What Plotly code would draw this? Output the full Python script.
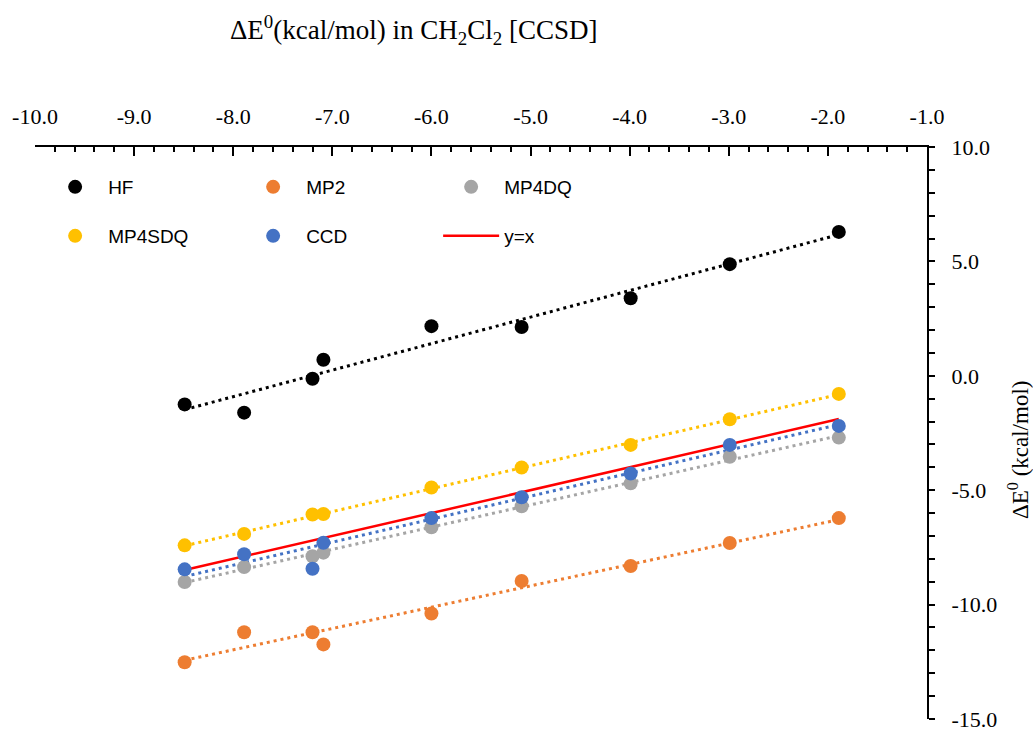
import numpy as np
import plotly.graph_objects as go

# x: ΔE0 in CH2Cl2 at CCSD level
ccsd = [-8.49, -7.89, -7.20, -7.09, -6.00, -5.09, -3.99, -2.99, -1.89]
hf = [-1.25, -1.61, -0.13, 0.70, 2.17, 2.13, 3.39, 4.88, 6.29]
mp2 = [-12.52, -11.21, -11.21, -11.74, -10.39, -8.97, -8.31, -7.31, -6.22]
mp4dq = [-9.01, -8.36, -7.89, -7.73, -6.62, -5.70, -4.70, -3.54, -2.70]
mp4sdq = [-7.41, -6.91, -6.06, -6.04, -4.88, -4.01, -3.02, -1.90, -0.79]
ccd = [-8.46, -7.80, -8.43, -7.30, -6.22, -5.31, -4.27, -3.02, -2.19]

series_names = ["HF", "MP2", "MP4DQ", "MP4SDQ", "CCD"]
series_vals = [hf, mp2, mp4dq, mp4sdq, ccd]
series_colors = ["#000000", "#ED7D31", "#A5A5A5", "#FFC000", "#4472C4"]

x_ticks = [-10.0, -9.0, -8.0, -7.0, -6.0, -5.0, -4.0, -3.0, -2.0, -1.0]
y_ticks = [10.0, 5.0, 0.0, -5.0, -10.0, -15.0]
x_ticktext = [f"{v:.1f}" for v in x_ticks]
y_ticktext = [f"{v:.1f}" for v in y_ticks]

serif = "Liberation Serif, Times New Roman, serif"
sans = "Liberation Sans, Arial, sans-serif"

fig = go.Figure()

xs = np.array(ccsd)
xline = np.array([xs.min(), xs.max()])

# trendlines (linear fits)
for name, vals, col in zip(series_names, series_vals, series_colors):
    a, b = np.polyfit(xs, np.array(vals), 1)
    fig.add_trace(go.Scatter(
        x=xline, y=a * xline + b, mode="lines",
        line=dict(color=col, width=3, dash="3px,4px"),
        showlegend=False, hoverinfo="skip"))

# y = x reference line
fig.add_trace(go.Scatter(
    x=xline, y=xline, mode="lines", name="y=x",
    line=dict(color="#FF0000", width=2.5),
    legend="legend2", legendrank=6))

for i, (name, vals, col) in enumerate(zip(series_names, series_vals, series_colors)):
    fig.add_trace(go.Scatter(
        x=ccsd, y=vals, mode="markers", name=name,
        marker=dict(color=col, size=14),
        legend="legend" if i < 3 else "legend2", legendrank=i + 1))

leg_common = dict(orientation="h", xanchor="left", yanchor="middle",
                  entrywidth=127, entrywidthmode="pixels", traceorder="normal",
                  itemwidth=56,
                  font=dict(family=sans, size=19, color="#000000"),
                  bgcolor="rgba(0,0,0,0)")

T, B = 147, 14
H = 733 - T - B
bottom_px = 733 - B

fig.update_layout(
    width=1033, height=733,
    margin=dict(l=35, r=106, t=T, b=B, autoexpand=False),
    paper_bgcolor="white", plot_bgcolor="white",
    showlegend=True,
    legend=dict(x=0.008, y=(bottom_px - 187) / H, **leg_common),
    legend2=dict(x=0.008, y=(bottom_px - 236) / H, **leg_common),
    xaxis=dict(range=[-10, -1], side="top", showgrid=False, zeroline=False,
               automargin=False,
               showline=True, linecolor="#000000", linewidth=2,
               tickvals=x_ticks, ticktext=x_ticktext,
               ticks="inside", ticklen=9, tickwidth=2, tickcolor="#000000",
               minor=dict(dtick=0.2, ticks="inside", ticklen=5, tickwidth=2, tickcolor="#000000"),
               tickfont=dict(family=serif, size=22, color="#000000"),
               ticklabelstandoff=12, ticklabeloverflow="allow"),
    yaxis=dict(range=[-15, 10], side="right", showgrid=False, zeroline=False,
               automargin=False,
               showline=True, linecolor="#000000", linewidth=2,
               tickvals=y_ticks, ticktext=y_ticktext,
               ticks="outside", ticklen=6, tickwidth=2, tickcolor="#000000",
               minor=dict(dtick=1, ticks="outside", ticklen=6, tickwidth=2, tickcolor="#000000"),
               tickfont=dict(family=serif, size=22, color="#000000"),
               ticklabelstandoff=12, ticklabeloverflow="allow"),
)

fig.add_annotation(
    text="ΔE<sup>0</sup>(kcal/mol) in CH<sub>2</sub>Cl<sub>2</sub> [CCSD]",
    xref="paper", yref="paper", x=(413 - 35) / 892, y=(bottom_px - 30) / H,
    xanchor="center", yanchor="middle", showarrow=False,
    font=dict(family=serif, size=27, color="#000000"))

fig.add_annotation(
    text="ΔE<sup>0</sup> (kcal/mol)",
    xref="paper", yref="paper", x=(1018 - 35) / 892, y=(bottom_px - 450) / H,
    xanchor="center", yanchor="middle", textangle=-90, showarrow=False,
    font=dict(family=serif, size=23, color="#000000"))

fig.write_html("out.html")
